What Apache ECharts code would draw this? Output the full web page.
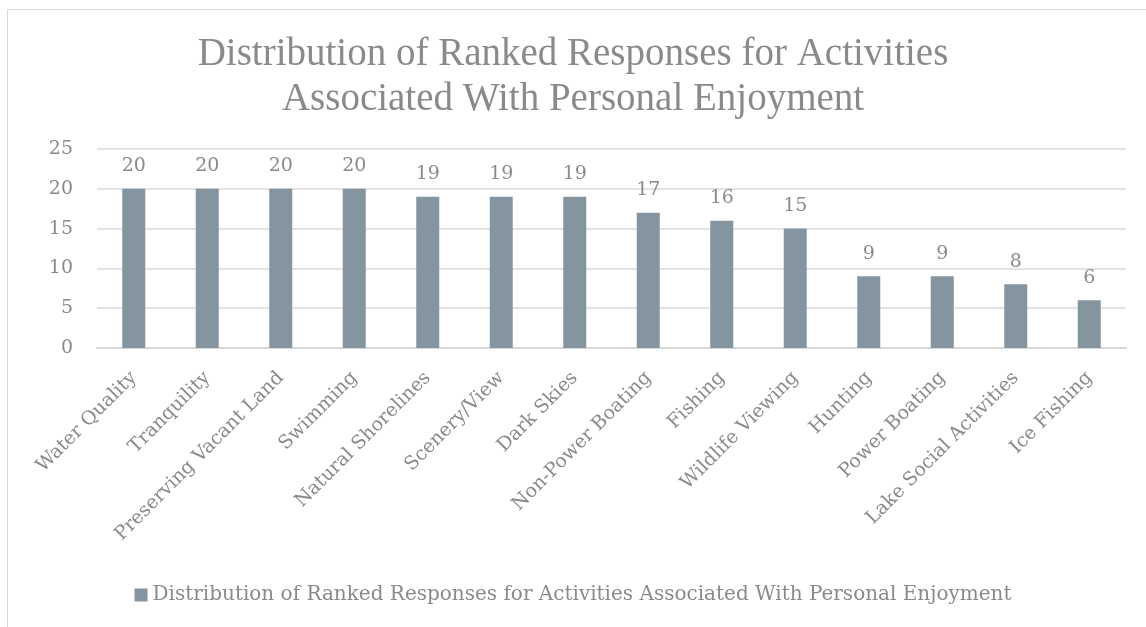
<!DOCTYPE html>
<html>
<head>
<meta charset="utf-8">
<script src="https://cdn.jsdelivr.net/npm/echarts@6/dist/echarts.min.js"></script>
<style>
  html, body { margin: 0; padding: 0; background: #fff; }
  #frame { position: absolute; left: 7px; top: 9px; width: 1160px; height: 640px; border: 1px solid #d9d9d9; }
  #chart { position: absolute; left: 0; top: 0; width: 1146px; height: 627px; }
</style>
</head>
<body>
<div id="frame"></div>
<div id="chart"></div>
<script>
const categories = ['Water Quality', 'Tranquility', 'Preserving Vacant Land', 'Swimming', 'Natural Shorelines',
  'Scenery/View', 'Dark Skies', 'Non-Power Boating', 'Fishing', 'Wildlife Viewing', 'Hunting',
  'Power Boating', 'Lake Social Activities', 'Ice Fishing'];
const responses = [20, 20, 20, 20, 19, 19, 19, 17, 16, 15, 9, 9, 8, 6];
const seriesName = 'Distribution of Ranked Responses for Activities Associated With Personal Enjoyment';

const titleFont = 'Liberation Serif';
const font = 'DejaVu Serif';
const textGray = '#8a8a8a';

const chart = echarts.init(document.getElementById('chart'), null, { renderer: 'canvas' });
chart.setOption({
  backgroundColor: 'transparent',
  animation: false,
  title: {
    text: 'Distribution of Ranked Responses for Activities\nAssociated With Personal Enjoyment',
    left: 'center',
    top: 27,
    textStyle: { fontFamily: titleFont, fontSize: 39, fontWeight: 'normal', color: textGray, lineHeight: 45 }
  },
  legend: {
    bottom: 17,
    left: 'center',
    itemWidth: 13,
    itemHeight: 13,
    itemGap: 6,
    icon: 'rect',
    textStyle: { fontFamily: font, fontSize: 20, color: textGray }
  },
  grid: { left: 97, right: 20, top: 149, bottom: 279, containLabel: false },
  xAxis: {
    type: 'category',
    data: categories,
    axisLine: { lineStyle: { color: '#d9d9d9', width: 2 } },
    axisTick: { show: false },
    axisLabel: { rotate: 45, margin: 27, interval: 0, fontFamily: font, fontSize: 19, color: textGray }
  },
  yAxis: {
    type: 'value',
    min: 0,
    max: 25,
    interval: 5,
    axisLine: { show: false },
    axisTick: { show: false },
    splitLine: { lineStyle: { color: '#e3e3e3', width: 2 } },
    axisLabel: { margin: 24, fontFamily: font, fontSize: 19, color: textGray }
  },
  series: [{
    name: seriesName,
    type: 'bar',
    data: responses,
    barWidth: 23,
    itemStyle: { color: '#85959f' },
    label: { show: true, position: 'top', distance: 13, fontFamily: font, fontSize: 19, color: textGray }
  }]
});
</script>
</body>
</html>
